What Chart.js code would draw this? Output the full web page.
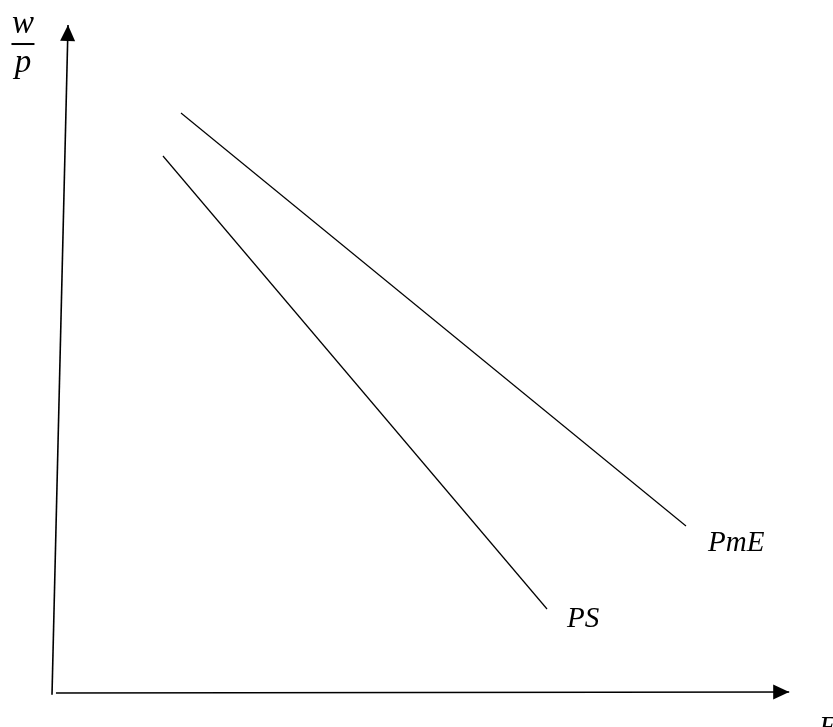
<!DOCTYPE html>
<html>
<head>
<meta charset="utf-8">
<script src="https://cdn.jsdelivr.net/npm/chart.js@4"></script>
<style>
  html, body { margin: 0; padding: 0; background: #fff; }
  canvas { display: block; }
</style>
</head>
<body>
<canvas id="chart" width="833" height="727"></canvas>
<script>
// Curve end points (arbitrary units, origin at the axes corner)
const pmeX = [1.755, 8.626];
const pmeY = [8.685, 2.511];
const psX = [1.51, 6.735];
const psY = [8.042, 1.271];

// Axes are drawn as lines that end in an arrow head
const yAxisX = [0, 0.218];
const yAxisY = [-0.01, 10];
const xAxisX = [0.054, 10.03];
const xAxisY = [0.015, 0.03];

// Curve names and where they sit
const curveNames = ["PmE", "PS"];
const curveNameX = [8.925, 7.007];
const curveNameY = [2.137, 1.0];

// Axis titles
const xTitle = "E";
const xTitleAt = [10.435, -0.63];
const yTitleTop = "w";
const yTitleBottom = "p";
const yTitleAt = [-0.395, 9.716];

const LABEL_FONT = "italic 29px 'Liberation Serif'";
const FRACTION_FONT = "italic 33px 'Liberation Serif'";

function toPoints(xs, ys) {
  return xs.map((x, i) => ({ x: x, y: ys[i] }));
}

function lineDataset(xs, ys, width, arrow) {
  return {
    data: toPoints(xs, ys),
    showLine: true,
    borderColor: "#000",
    borderWidth: width,
    pointRadius: 0,
    fill: false,
    arrow: arrow,
  };
}

const arrowHeads = {
  id: "arrowHeads",
  afterDatasetsDraw(chart) {
    const ctx = chart.ctx;
    chart.data.datasets.forEach((ds, i) => {
      if (!ds.arrow) return;
      const pts = chart.getDatasetMeta(i).data;
      const tip = pts[pts.length - 1];
      const prev = pts[pts.length - 2];
      const a = Math.atan2(tip.y - prev.y, tip.x - prev.x);
      const len = 16;
      const half = 7.5;
      const bx = tip.x - len * Math.cos(a);
      const by = tip.y - len * Math.sin(a);
      ctx.save();
      ctx.fillStyle = "#000";
      ctx.beginPath();
      ctx.moveTo(tip.x, tip.y);
      ctx.lineTo(bx - half * Math.sin(a), by + half * Math.cos(a));
      ctx.lineTo(bx + half * Math.sin(a), by - half * Math.cos(a));
      ctx.closePath();
      ctx.fill();
      ctx.restore();
    });
  },
};

const textLabels = {
  id: "textLabels",
  afterDraw(chart) {
    const ctx = chart.ctx;
    const sx = chart.scales.x;
    const sy = chart.scales.y;
    ctx.save();
    ctx.fillStyle = "#000";
    ctx.font = LABEL_FONT;
    ctx.textBaseline = "alphabetic";
    ctx.textAlign = "left";

    curveNames.forEach((name, i) => {
      ctx.fillText(name, sx.getPixelForValue(curveNameX[i]), sy.getPixelForValue(curveNameY[i]));
    });
    ctx.fillText(xTitle, sx.getPixelForValue(xTitleAt[0]), sy.getPixelForValue(xTitleAt[1]));

    // w over p, as a fraction
    const cx = sx.getPixelForValue(yTitleAt[0]);
    const cy = sy.getPixelForValue(yTitleAt[1]);
    ctx.font = FRACTION_FONT;
    ctx.textAlign = "center";
    ctx.fillText(yTitleTop, cx, cy - 11);
    ctx.fillText(yTitleBottom, cx, cy + 28);
    ctx.fillRect(cx - 11.5, cy - 1, 23, 2);
    ctx.restore();
  },
};

new Chart(document.getElementById("chart"), {
  type: "scatter",
  data: {
    datasets: [
      lineDataset(yAxisX, yAxisY, 1.6, true),
      lineDataset(xAxisX, xAxisY, 1.6, true),
      lineDataset(pmeX, pmeY, 1.2, false),
      lineDataset(psX, psY, 1.2, false),
    ],
  },
  options: {
    responsive: false,
    animation: false,
    devicePixelRatio: 1,
    layout: { padding: 0 },
    plugins: {
      legend: { display: false },
      tooltip: { enabled: false },
    },
    scales: {
      x: { type: "linear", min: -0.7075, max: 10.626, display: false },
      y: { type: "linear", min: -0.493, max: 10.374, display: false },
    },
  },
  plugins: [arrowHeads, textLabels],
});
</script>
</body>
</html>
